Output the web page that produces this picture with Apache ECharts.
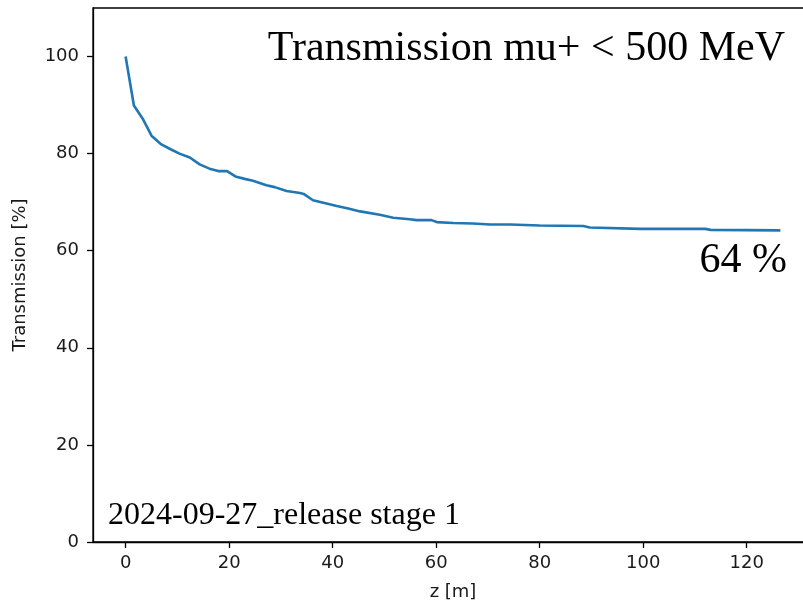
<!DOCTYPE html>
<html>
<head>
<meta charset="utf-8">
<script src="https://cdn.jsdelivr.net/npm/echarts@6/dist/echarts.min.js"></script>
<style>
  html, body { margin: 0; padding: 0; background: #fff; }
  #chart { width: 803px; height: 604px; }
</style>
</head>
<body>
<div id="chart"></div>
<script>
// z positions [m] and transmission [%]
const zValues = [0, 1.6, 3.3, 5.0, 6.9, 8.7, 10.4, 12.4, 14.3, 16.2, 17.9, 19.6, 21.2, 23.0, 24.6,
  27.2, 28.8, 31.1, 33.7, 34.4, 36.2, 38.2, 40.8, 43.0, 45.3, 49.1, 51.7, 54.9, 56.2, 59.1, 60.1,
  63.3, 67.1, 70.4, 74.3, 80.0, 88.4, 89.7, 99.4, 112.0, 113.0, 126.5]
const transmission = [100, 89.9, 87.2, 83.7, 81.9, 80.9, 80.0, 79.2, 77.8, 76.9, 76.4, 76.4, 75.3, 74.8, 74.4,
  73.5, 73.1, 72.3, 71.9, 71.7, 70.4, 69.9, 69.2, 68.7, 68.1, 67.4, 66.8, 66.5, 66.3, 66.3, 65.9,
  65.7, 65.6, 65.4, 65.4, 65.2, 65.1, 64.8, 64.5, 64.5, 64.3, 64.2]
const xTicks = [0, 20, 40, 60, 80, 100, 120]
const yTicks = [0, 20, 40, 60, 80, 100]

const titleText = 'Transmission mu+ < 500 MeV'
const finalText = '64 %'
const releaseText = '2024-09-27_release stage 1'

const tickFont = {
  color: '#1a1a1a',
  fontFamily: 'DejaVu Sans',
  fontSize: 18
}

const myChart = echarts.init(document.getElementById('chart'))

const option = {
  animation: false,
  grid: {
    left: 93,
    top: 8,
    right: -10,
    bottom: 62,
    outerBoundsMode: 'none',
    containLabel: false,
    show: true,
    borderColor: '#000',
    borderWidth: 1.3,
    backgroundColor: 'transparent'
  },
  xAxis: {
    type: 'value',
    min: -6.3,
    max: 132.8,
    name: 'z [m]',
    nameLocation: 'middle',
    nameGap: 41,
    nameTextStyle: tickFont,
    axisLine: { show: true, onZero: false, lineStyle: { color: '#000', width: 1.3 } },
    axisTick: { show: true, length: 6, customValues: xTicks, lineStyle: { color: '#000', width: 1.3 } },
    axisLabel: Object.assign({ margin: 12, customValues: xTicks }, tickFont),
    splitLine: { show: false }
  },
  yAxis: {
    type: 'value',
    min: 0,
    max: 110,
    name: 'Transmission [%]',
    nameLocation: 'middle',
    nameGap: 64,
    nameTextStyle: tickFont,
    axisLine: { show: true, onZero: false, lineStyle: { color: '#000', width: 1.3 } },
    axisTick: { show: true, length: 6, customValues: yTicks, lineStyle: { color: '#000', width: 1.3 } },
    axisLabel: Object.assign({ margin: 14, customValues: yTicks }, tickFont),
    splitLine: { show: false }
  },
  series: [
    {
      type: 'line',
      data: zValues.map((z, i) => [z, transmission[i]]),
      showSymbol: false,
      lineStyle: { color: '#1f77b4', width: 2.6 },
      itemStyle: { color: '#1f77b4' }
    }
  ],
  graphic: [
    {
      type: 'text',
      right: 18,
      top: 28,
      style: { text: titleText, fill: '#000', font: '42px "Liberation Serif"' }
    },
    {
      type: 'text',
      right: 16,
      top: 240,
      style: { text: finalText, fill: '#000', font: '42px "Liberation Serif"' }
    },
    {
      type: 'text',
      left: 108,
      top: 500,
      style: { text: releaseText, fill: '#000', font: '32px "Liberation Serif"' }
    }
  ]
}

myChart.setOption(option)
</script>
</body>
</html>
